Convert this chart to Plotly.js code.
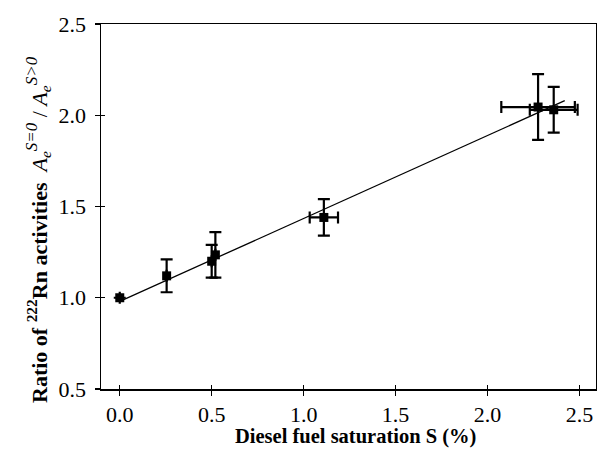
<!DOCTYPE html>
<html>
<head>
<meta charset="utf-8">
<script src="https://cdn.plot.ly/plotly-3.0.1.min.js"></script>
<style>html,body{margin:0;padding:0;background:#fff;}#chart{width:597px;height:454px;}</style>
</head>
<body>
<div id="chart"></div>
<script>
// Data
const saturation = [0.00, 0.255, 0.50, 0.52, 1.11, 2.275, 2.36];
const ratio      = [1.00, 1.12, 1.20, 1.235, 1.44, 2.045, 2.03];
const ratioErr   = [0, 0.09, 0.09, 0.125, 0.10, 0.18, 0.125];
const satErr     = [0, 0, 0, 0, 0.077, 0.20, 0.13];
const fitX = [0.0, 2.42];
const fitY = [0.98, 2.08];

const xTicks = [0.0, 0.5, 1.0, 1.5, 2.0, 2.5];
const xTickText = ['0.0', '0.5', '1.0', '1.5', '2.0', '2.5'];
const yTicks = [0.5, 1.0, 1.5, 2.0, 2.5];
const yTickText = ['0.5', '1.0', '1.5', '2.0', '2.5'];

const serif = 'Liberation Serif, Times New Roman, serif';
const xRange = [-0.102, 2.59];
const yRange = [0.5, 2.5];

const traces = [
  {
    x: fitX, y: fitY, mode: 'lines', type: 'scatter',
    line: {color: '#000', width: 1.3}, hoverinfo: 'skip', showlegend: false
  },
  {
    x: saturation, y: ratio, mode: 'markers', type: 'scatter',
    marker: {symbol: 'square', size: 9, color: '#000'},
    error_y: {type: 'data', array: ratioErr, visible: true, color: '#000', thickness: 2.2, width: 6},
    error_x: {type: 'data', array: satErr, visible: true, color: '#000', thickness: 2.2, width: 6},
    showlegend: false
  }
];

const yTitle = '<b>Ratio of <sup>222</sup>Rn activities</b>  ' +
  '<i>A</i><sub><i>e</i></sub><sup><span style="font-size:17px"><i>S=0</i></span></sup>' +
  ' / <i>A</i><sub><i>e</i></sub><sup><span style="font-size:17px"><i>S>0</i></span></sup>';
const xTitle = '<b>Diesel fuel saturation S (%)</b>';

const layout = {
  width: 597, height: 454,
  margin: {l: 101, r: 1, t: 24, b: 65},
  paper_bgcolor: '#fff', plot_bgcolor: '#fff',
  font: {family: serif, color: '#000', size: 22},
  showlegend: false,
  xaxis: {
    range: xRange, tickvals: xTicks, ticktext: xTickText,
    ticks: 'outside', ticklen: 5, tickwidth: 1.2, tickcolor: '#000',
    showline: true, linecolor: '#000', linewidth: 1.5, mirror: true,
    showgrid: false, zeroline: false,
    tickfont: {family: serif, size: 22, color: '#000'}
  },
  yaxis: {
    range: yRange, tickvals: yTicks, ticktext: yTickText,
    ticks: 'outside', ticklen: 5, tickwidth: 1.2, tickcolor: '#000',
    ticklabelstandoff: 4,
    showline: true, linecolor: '#000', linewidth: 1.5, mirror: true,
    showgrid: false, zeroline: false,
    tickfont: {family: serif, size: 22, color: '#000'}
  },
  xaxis2: {
    range: xRange, overlaying: 'x', anchor: 'y', tickvals: xTicks,
    ticks: 'inside', ticklen: 4, tickwidth: 1.2, tickcolor: '#000',
    showticklabels: false, showgrid: false, zeroline: false, showline: false
  },
  yaxis2: {
    range: yRange, overlaying: 'y', anchor: 'x', tickvals: yTicks,
    ticks: 'inside', ticklen: 4, tickwidth: 1.2, tickcolor: '#000',
    showticklabels: false, showgrid: false, zeroline: false, showline: false
  },
  annotations: [
    {text: xTitle, xref: 'paper', yref: 'paper', x: 0.515, y: -0.1315,
     xanchor: 'center', yanchor: 'middle', showarrow: false,
     font: {family: serif, size: 20.5, color: '#000'}},
    {text: yTitle, xref: 'paper', yref: 'paper', x: -0.127, y: 0.436,
     xanchor: 'center', yanchor: 'middle', textangle: -90, showarrow: false,
     font: {family: serif, size: 22, color: '#000'}}
  ]
};

// invisible trace to activate the overlay axes for crossing ticks
traces.push({x: [xRange[0]], y: [yRange[0]], xaxis: 'x2', yaxis: 'y2', mode: 'markers', marker: {opacity: 0}, hoverinfo: 'skip', showlegend: false});

Plotly.newPlot('chart', traces, layout, {displayModeBar: false, staticPlot: true});
</script>
</body>
</html>
